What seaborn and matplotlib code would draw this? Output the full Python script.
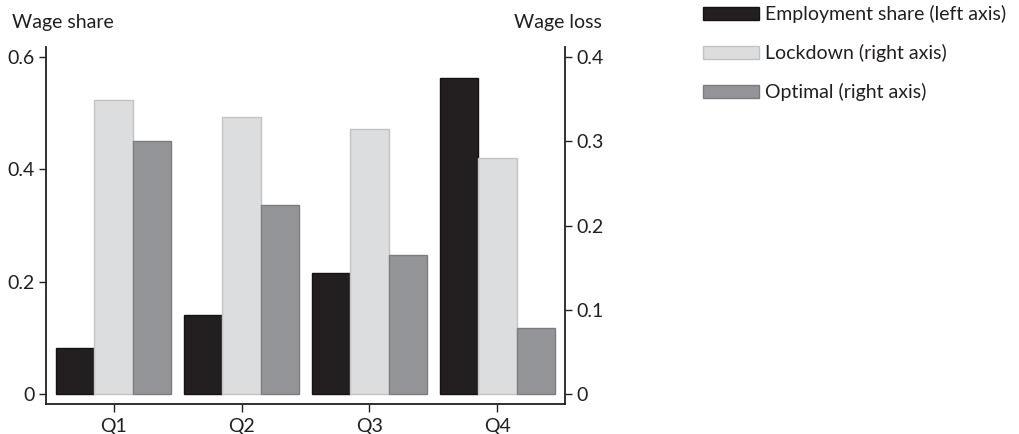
import numpy as np
import pandas as pd
import matplotlib
matplotlib.use("Agg")
import matplotlib.pyplot as plt
from matplotlib.patches import Patch
from matplotlib.ticker import FuncFormatter
import seaborn as sns

quartiles = ["Q1", "Q2", "Q3", "Q4"]
employment_share = [0.082, 0.141, 0.216, 0.562]
lockdown_loss = [0.349, 0.329, 0.314, 0.280]
optimal_loss = [0.300, 0.224, 0.165, 0.079]

series = ["Employment share (left axis)", "Lockdown (right axis)", "Optimal (right axis)"]
fills = ["#231f20", "#dcdddf", "#939598"]
edges = ["#141213", "#c2c3c5", "#7b7c7f"]

left_df = pd.DataFrame({
    "quartile": quartiles * 3,
    "series": np.repeat(series, 4),
    "value": employment_share + [np.nan] * 8,
})
right_df = pd.DataFrame({
    "quartile": quartiles * 3,
    "series": np.repeat(series, 4),
    "value": [np.nan] * 4 + lockdown_loss + optimal_loss,
})

sns.set_style("white")
plt.rcParams["font.family"] = ["Lato", "DejaVu Sans"]
fs = 14

fig = plt.figure(figsize=(10.2, 4.34), dpi=100)
ax = fig.add_axes([0.0448, 0.069, 0.5094, 0.822])
ax2 = ax.twinx()

pal = dict(zip(series, fills))
sns.barplot(data=left_df, x="quartile", y="value", hue="series", hue_order=series,
            order=quartiles, palette=pal, width=0.9, gap=0, saturation=1,
            errorbar=None, legend=False, ax=ax)
sns.barplot(data=right_df, x="quartile", y="value", hue="series", hue_order=series,
            order=quartiles, palette=pal, width=0.9, gap=0, saturation=1,
            errorbar=None, legend=False, ax=ax2)

edge_map = {matplotlib.colors.to_hex(f): e for f, e in zip(fills, edges)}
for a in (ax, ax2):
    for p in a.patches:
        key = matplotlib.colors.to_hex(p.get_facecolor())
        p.set_edgecolor(edge_map.get(key, "none"))
        p.set_linewidth(1.0)

ax.set_xlim(-0.53, 3.53)
ax.set_ylim(-0.0172, 0.617)
ax2.set_ylim(-0.0115, 0.4113)
ax.set_yticks([0, 0.2, 0.4, 0.6])
ax2.set_yticks([0, 0.1, 0.2, 0.3, 0.4])
fmt = FuncFormatter(lambda v, pos: "0" if v == 0 else f"{v:g}")
ax.yaxis.set_major_formatter(fmt)
ax2.yaxis.set_major_formatter(fmt)
ax.set_xlabel("")
ax.set_ylabel("")
ax2.set_xlabel("")
ax2.set_ylabel("")

spine_col = "#231f20"
for a in (ax, ax2):
    for s in a.spines.values():
        s.set_visible(False)
        s.set_color(spine_col)
        s.set_linewidth(1.3)
ax.spines["left"].set_visible(True)
ax.spines["bottom"].set_visible(True)
ax2.spines["right"].set_visible(True)

ax.tick_params(axis="y", left=True, length=5, width=1, pad=3, colors=spine_col, labelsize=fs)
ax.tick_params(axis="x", bottom=True, length=6, width=1, pad=4, colors=spine_col, labelsize=fs)
ax2.tick_params(axis="y", right=True, length=5, width=1, pad=3, colors=spine_col, labelsize=fs)

fig.text(12 / 1020, 1 - 28 / 434, "Wage share", ha="left", va="baseline",
         fontsize=fs, color=spine_col)
fig.text(602 / 1020, 1 - 28 / 434, "Wage loss", ha="right", va="baseline",
         fontsize=fs, color=spine_col)

handles = [Patch(facecolor=f, edgecolor=e, linewidth=1.0) for f, e in zip(fills, edges)]
fig.legend(handles, series, loc="upper left", bbox_to_anchor=(703 / 1020, 1 - 5 / 434),
           frameon=False, fontsize=fs, handlelength=2.9, handleheight=0.62,
           handletextpad=0.3, labelspacing=1.08, borderpad=0, borderaxespad=0,
           labelcolor=spine_col)

fig.savefig("out.png", dpi=100)
